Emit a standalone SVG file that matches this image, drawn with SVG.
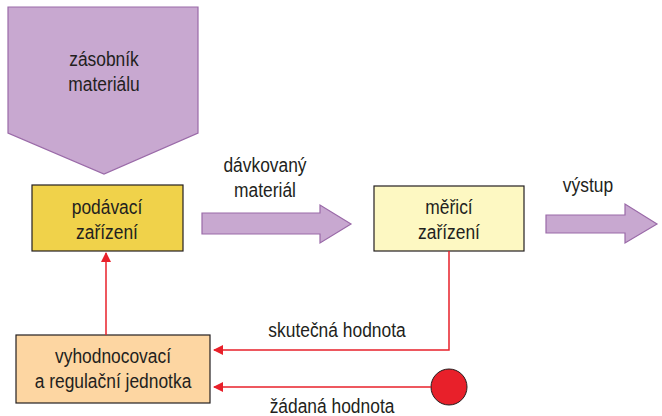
<svg xmlns="http://www.w3.org/2000/svg" width="662" height="416" viewBox="0 0 662 416">
<style>
text{font-family:"Liberation Sans",Arial,sans-serif;font-size:20px;fill:#231f20;text-anchor:middle}
.box{stroke:#231f20;stroke-width:1.2}
.pur{fill:#c8a8d0;stroke:#9a6aa8;stroke-width:1.2}
.red{fill:none;stroke:#e8202a;stroke-width:1.5}
</style>
<defs>
<marker id="ah" markerWidth="10" markerHeight="10" refX="9" refY="5" orient="auto" markerUnits="userSpaceOnUse" viewBox="0 0 10 10">
<path d="M0,0 L10,5 L0,10 z" fill="#e8202a"/>
</marker>
</defs>
<rect width="662" height="416" fill="#fff"/>
<g id="zasobnik">
<path class="pur" d="M8,7 H198 V133 L104,174 L8,133 Z"/>
<text transform="translate(104,66) scale(0.87,1)">zásobník</text>
<text transform="translate(104,91) scale(0.87,1)">materiálu</text>
</g>
<g id="podavaci">
<rect class="box" x="32" y="185" width="151" height="66" fill="#f0d24a"/>
<text transform="translate(107,214) scale(0.87,1)">podávací</text>
<text transform="translate(107,239) scale(0.87,1)">zařízení</text>
</g>
<g id="merici">
<rect class="box" x="374" y="186" width="150" height="65" fill="#fdf8c2"/>
<text transform="translate(449,214) scale(0.87,1)">měřicí</text>
<text transform="translate(449,239) scale(0.87,1)">zařízení</text>
</g>
<g id="vyhodnocovaci">
<rect class="box" x="16" y="335" width="194" height="68" fill="#fdd6a2"/>
<text transform="translate(113,363) scale(0.87,1)">vyhodnocovací</text>
<text transform="translate(113,388) scale(0.87,1)">a regulační jednotka</text>
</g>
<g id="zadana">
<circle cx="449" cy="387" r="18" fill="#e8202a" stroke="#231f20" stroke-width="1"/>
</g>
<g id="connectors">
<path class="pur" d="M202,213 H320 V205 L351,224 L320,243 V234 H202 Z"/>
<text transform="translate(265,172) scale(0.87,1)">dávkovaný</text>
<text transform="translate(265,197) scale(0.87,1)">materiál</text>
<path class="pur" d="M546,215 H625 V204 L657,224 L625,243 V233 H546 Z"/>
<text transform="translate(588,192) scale(0.87,1)">výstup</text>
<path class="red" d="M449,251 V350 H214" marker-end="url(#ah)"/>
<text transform="translate(337,337) scale(0.87,1)">skutečná hodnota</text>
<path class="red" d="M431,387 H214" marker-end="url(#ah)"/>
<text transform="translate(332,413) scale(0.87,1)">žádaná hodnota</text>
<path class="red" d="M106,335 V253" marker-end="url(#ah)"/>
</g>
</svg>
